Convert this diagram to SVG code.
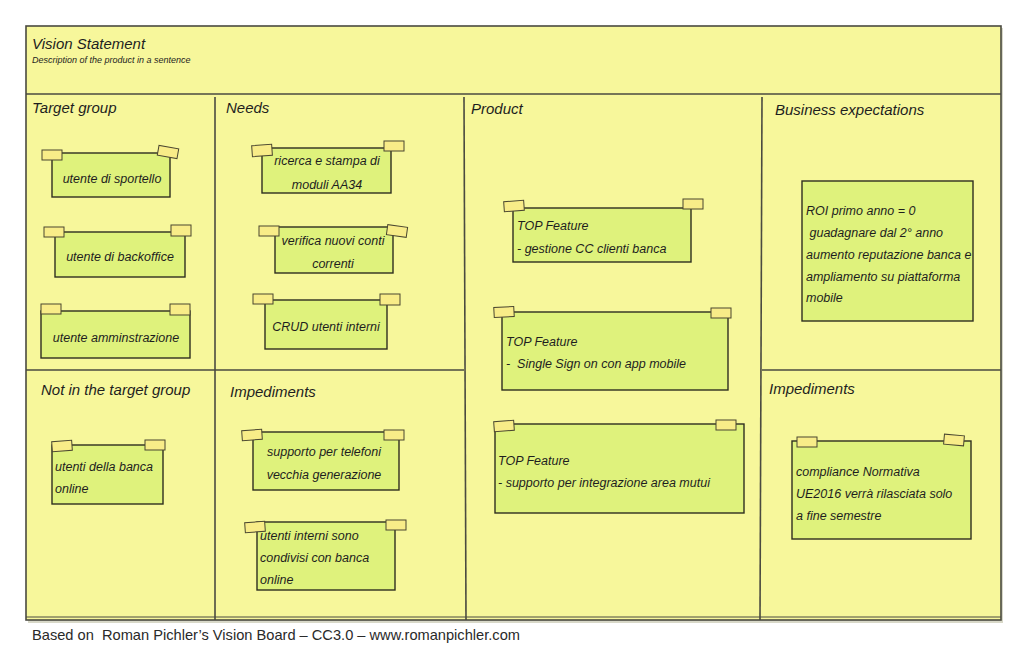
<svg xmlns="http://www.w3.org/2000/svg" width="1024" height="666" viewBox="0 0 1024 666">
<defs>
<style>
.board{fill:#f7f79b;stroke:#4a4a40;stroke-width:1.6}
.line{stroke:#4a4a40;stroke-width:1.6;fill:none}
.note{fill:#dff27c;stroke:#2e2e20;stroke-width:1.4}
.tape{fill:#f8ec88;stroke:#4a4630;stroke-width:1}
.h{font-family:"Liberation Sans",Arial,sans-serif;font-style:italic;font-size:15px;fill:#1e1e1e}
.t{font-family:"Liberation Sans",Arial,sans-serif;font-style:italic;font-size:12.5px;fill:#1e1e1e}
.c{text-anchor:middle}
.foot{font-family:"Liberation Sans",Arial,sans-serif;font-size:14.5px;fill:#2a2a2a}
</style>
</defs>
<rect x="0" y="0" width="1024" height="666" fill="#ffffff"/>
<rect x="28" y="28" width="975" height="595" fill="#d8d8c8"/>
<rect class="board" x="26" y="26" width="975" height="594"/>
<g id="grid">
<line class="line" x1="26" y1="94" x2="1001" y2="94"/>
<line class="line" x1="215" y1="97" x2="215" y2="620"/>
<line class="line" x1="464" y1="97" x2="466" y2="620"/>
<line class="line" x1="762" y1="97" x2="760" y2="620"/>
<line class="line" x1="26" y1="370" x2="464" y2="370"/>
<line class="line" x1="762" y1="370" x2="1001" y2="370"/>
<line x1="26" y1="617" x2="1001" y2="617" stroke="#4a4a40" stroke-width="1"/>
</g>
<g id="headers">
<text class="h" x="32" y="49">Vision Statement</text>
<text class="t" x="32" y="63" style="font-size:9px">Description of the product in a sentence</text>
<text class="h" x="32" y="113">Target group</text>
<text class="h" x="226" y="113">Needs</text>
<text class="h" x="471" y="114">Product</text>
<text class="h" x="775" y="115">Business expectations</text>
<text class="h" x="41" y="395">Not in the target group</text>
<text class="h" x="230" y="397">Impediments</text>
<text class="h" x="769" y="394">Impediments</text>
</g>
<g id="note-sportello">
<rect class="note" x="52" y="153" width="118" height="44"/>
<rect class="tape" x="42" y="150" width="20" height="10"/>
<rect class="tape" x="158" y="147" width="20" height="10" transform="rotate(10 168 152)"/>
<text class="t c" x="112" y="183">utente di sportello</text>
</g>
<g id="note-backoffice">
<rect class="note" x="55" y="232" width="130" height="45"/>
<rect class="tape" x="44" y="227" width="20" height="10"/>
<rect class="tape" x="171" y="225" width="20" height="11"/>
<text class="t c" x="120" y="261">utente di backoffice</text>
</g>
<g id="note-amministrazione">
<rect class="note" x="41" y="311" width="149" height="47"/>
<rect class="tape" x="41" y="304" width="20" height="10"/>
<rect class="tape" x="170" y="304" width="20" height="11"/>
<text class="t c" x="116" y="342">utente amminstrazione</text>
</g>
<g id="note-ricerca">
<rect class="note" x="262" y="148" width="129" height="45"/>
<rect class="tape" x="252" y="145" width="20" height="11" transform="rotate(-4 262 150)"/>
<rect class="tape" x="384" y="141" width="20" height="10"/>
<text class="t c" x="327" y="165">ricerca e stampa di</text>
<text class="t c" x="327" y="189">moduli AA34</text>
</g>
<g id="note-verifica">
<rect class="note" x="275" y="227" width="118" height="46"/>
<rect class="tape" x="259" y="226" width="20" height="10"/>
<rect class="tape" x="387" y="226" width="20" height="10" transform="rotate(8 397 231)"/>
<text class="t c" x="333" y="245">verifica nuovi conti</text>
<text class="t c" x="333" y="268">correnti</text>
</g>
<g id="note-crud">
<rect class="note" x="265" y="300" width="122" height="49"/>
<rect class="tape" x="253" y="294" width="20" height="10"/>
<rect class="tape" x="380" y="294" width="20" height="11"/>
<text class="t c" x="326" y="331">CRUD utenti interni</text>
</g>
<g id="note-banca-online">
<rect class="note" x="52" y="445" width="111" height="59"/>
<rect class="tape" x="52" y="441" width="20" height="10" transform="rotate(-4 62 446)"/>
<rect class="tape" x="145" y="440" width="20" height="10"/>
<text class="t" x="55" y="471">utenti della banca</text>
<text class="t" x="55" y="493">online</text>
</g>
<g id="note-telefoni">
<rect class="note" x="253" y="432" width="146" height="58"/>
<rect class="tape" x="242" y="430" width="20" height="10" transform="rotate(-4 252 435)"/>
<rect class="tape" x="384" y="430" width="20" height="10"/>
<text class="t c" x="324" y="456">supporto per telefoni</text>
<text class="t c" x="324" y="479">vecchia generazione</text>
</g>
<g id="note-utenti-interni">
<rect class="note" x="257" y="522" width="138" height="68"/>
<rect class="tape" x="245" y="522" width="20" height="10" transform="rotate(-4 255 527)"/>
<rect class="tape" x="386" y="520" width="20" height="10"/>
<text class="t" x="260" y="540">utenti interni sono</text>
<text class="t" x="260" y="562">condivisi con banca</text>
<text class="t" x="260" y="584">online</text>
</g>
<g id="note-feature1">
<rect class="note" x="513" y="208" width="178" height="54"/>
<rect class="tape" x="504" y="201" width="20" height="10" transform="rotate(-4 514 206)"/>
<rect class="tape" x="683" y="199" width="20" height="10"/>
<text class="t" x="517" y="230">TOP Feature</text>
<text class="t" x="517" y="253">- gestione CC clienti banca</text>
</g>
<g id="note-feature2">
<rect class="note" x="502" y="312" width="226" height="78"/>
<rect class="tape" x="494" y="307" width="20" height="10" transform="rotate(-3 504 312)"/>
<rect class="tape" x="711" y="308" width="20" height="10"/>
<text class="t" x="506" y="346">TOP Feature</text>
<text class="t" x="506" y="368" xml:space="preserve">-  Single Sign on con app mobile</text>
</g>
<g id="note-feature3">
<rect class="note" x="495" y="424" width="249" height="89"/>
<rect class="tape" x="494" y="421" width="20" height="10" transform="rotate(-4 504 426)"/>
<rect class="tape" x="716" y="420" width="20" height="10"/>
<text class="t" x="498" y="465">TOP Feature</text>
<text class="t" x="498" y="487">- supporto per integrazione area mutui</text>
</g>
<g id="note-business">
<rect class="note" x="802" y="181" width="171" height="140"/>
<text class="t" x="806" y="215">ROI primo anno = 0</text>
<text class="t" x="806" y="237" xml:space="preserve"> guadagnare dal 2° anno</text>
<text class="t" x="806" y="259">aumento reputazione banca e</text>
<text class="t" x="806" y="281">ampliamento su piattaforma</text>
<text class="t" x="806" y="302">mobile</text>
</g>
<g id="note-compliance">
<rect class="note" x="792" y="441" width="179" height="98"/>
<rect class="tape" x="797" y="437" width="20" height="10"/>
<rect class="tape" x="944" y="435" width="20" height="10" transform="rotate(5 954 440)"/>
<text class="t" x="796" y="476">compliance Normativa</text>
<text class="t" x="796" y="498">UE2016 verrà rilasciata solo</text>
<text class="t" x="796" y="520">a fine semestre</text>
</g>
<text class="foot" x="32" y="640" xml:space="preserve" textLength="488" lengthAdjust="spacingAndGlyphs">Based on  Roman Pichler’s Vision Board – CC3.0 – www.romanpichler.com</text>
</svg>
